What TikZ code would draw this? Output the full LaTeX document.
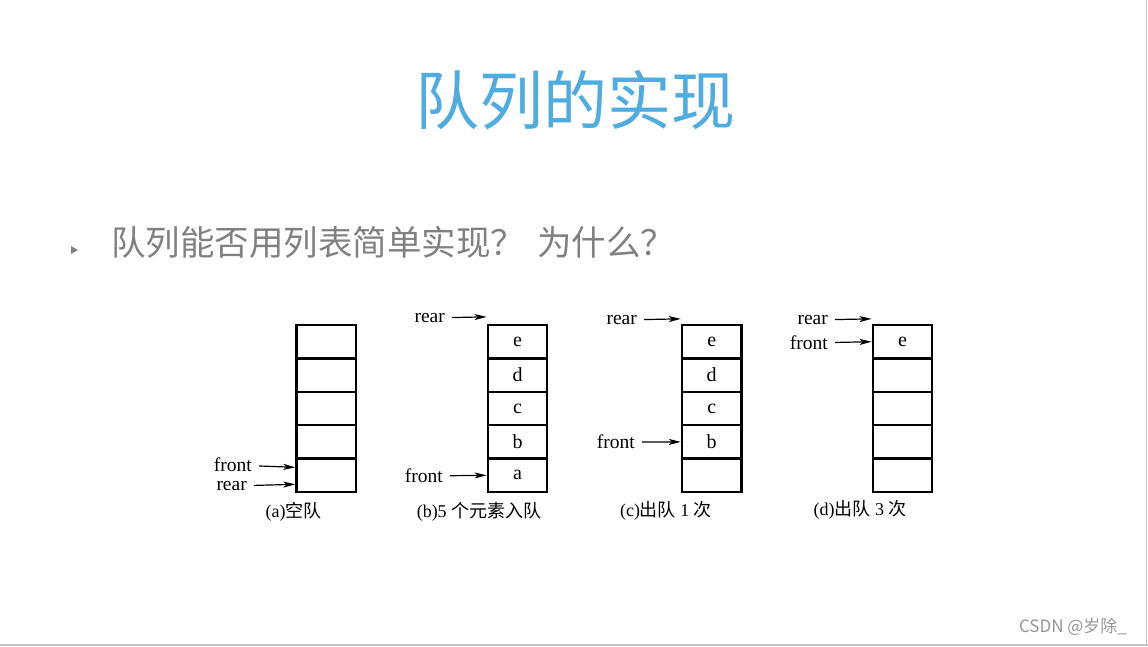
\documentclass[tikz,border=0pt]{standalone}
\usepackage{fontspec}
\setmainfont{Liberation Serif}
\newfontfamily\cjk{Noto Sans CJK SC}
\usetikzlibrary{arrows.meta}
\definecolor{titleblue}{RGB}{79,172,224}
\definecolor{subgray}{RGB}{128,128,128}
\definecolor{markgray}{RGB}{150,150,150}
\definecolor{framegray}{RGB}{195,195,195}
\tikzset{
    cell/.style={draw, line width=2.3pt, minimum width=59.5pt, minimum height=33.4pt, inner sep=0pt, font=\fontsize{20}{22}\selectfont},
    lbl/.style={anchor=east, inner sep=1pt, font=\fontsize{19.5}{21}\selectfont},
    captext/.style={inner sep=0pt, font=\fontsize{18}{20}\selectfont},
    ptr/.style={-{Stealth[length=12pt,width=6pt,inset=3pt]}, line width=1.2pt, shorten <=6pt},
}
\begin{document}
\begin{tikzpicture}[x=1pt,y=-1pt]
    \useasboundingbox (0,0) rectangle (1148,646);
    \draw[framegray, line width=1.5pt] (1146.5,0) -- (1146.5,646);
    \draw[framegray, line width=1.5pt] (0,645) -- (1148,645);
    \node[text=titleblue, font=\cjk\fontsize{64}{70}\selectfont] (title) at (575,100) {队列的实现};
    \fill[subgray] (71,246) -- (78,250) -- (71,254) -- cycle;
    \node[anchor=west, inner sep=0pt, text=subgray, font=\cjk\fontsize{34.5}{40}\selectfont] (question) at (111,242) {队列能否用列表简单实现？\hspace{12pt}为什么？};
    \foreach \q/\x/\ca/\cb/\cc/\cd/\ce in {a/326.2/{}/{}/{}/{}/{}, b/517.5/e/d/c/b/a, c/711.7/e/d/c/b/{}, d/902.5/e/{}/{}/{}/{}} {
        \foreach \t [count=\k] in {\ca,\cb,\cc,\cd,\ce} {
            \node[cell] (\q\k) at (\x,{325+33.4*(\k-0.5)}) {\t};
        }
    }
    \node[lbl] (frontA) at (253,465) {front};
    \node[lbl] (rearA) at (248,486) {rear};
    \draw[ptr] (frontA) -- ([yshift=8pt]a5.west);
    \draw[ptr] (rearA) -- ([yshift=-9pt]a5.west);
    \node[lbl] (rearB) at (446,318) {rear};
    \node[lbl] (frontB) at (444,476) {front};
    \draw[ptr] (rearB) -- ([yshift=7pt]b1.north west);
    \draw[ptr] (frontB) -- (b5.west);
    \node[lbl] (rearC) at (638,320) {rear};
    \node[lbl] (frontC) at (636,442) {front};
    \draw[ptr] (rearC) -- ([yshift=5pt]c1.north west);
    \draw[ptr] (frontC) -- (c4.west);
    \node[lbl] (rearD) at (829,320) {rear};
    \node[lbl] (frontD) at (829,343) {front};
    \draw[ptr] (rearD) -- ([yshift=5pt]d1.north west);
    \draw[ptr] (frontD) -- (d1.west);
    \node[captext] (capA) at (293.5,512) {(a){\cjk 空队}};
    \node[captext] (capB) at (479,512) {(b)5 {\cjk 个元素入队}};
    \node[captext] (capC) at (666,511) {(c){\cjk 出队} 1 {\cjk 次}};
    \node[captext] (capD) at (860,510) {(d){\cjk 出队} 3 {\cjk 次}};
    \node[text=markgray, inner sep=0pt, font=\cjk\fontsize{17}{19}\selectfont] (mark) at (1073,627) {CSDN @岁除\_};
\end{tikzpicture}
\end{document}
